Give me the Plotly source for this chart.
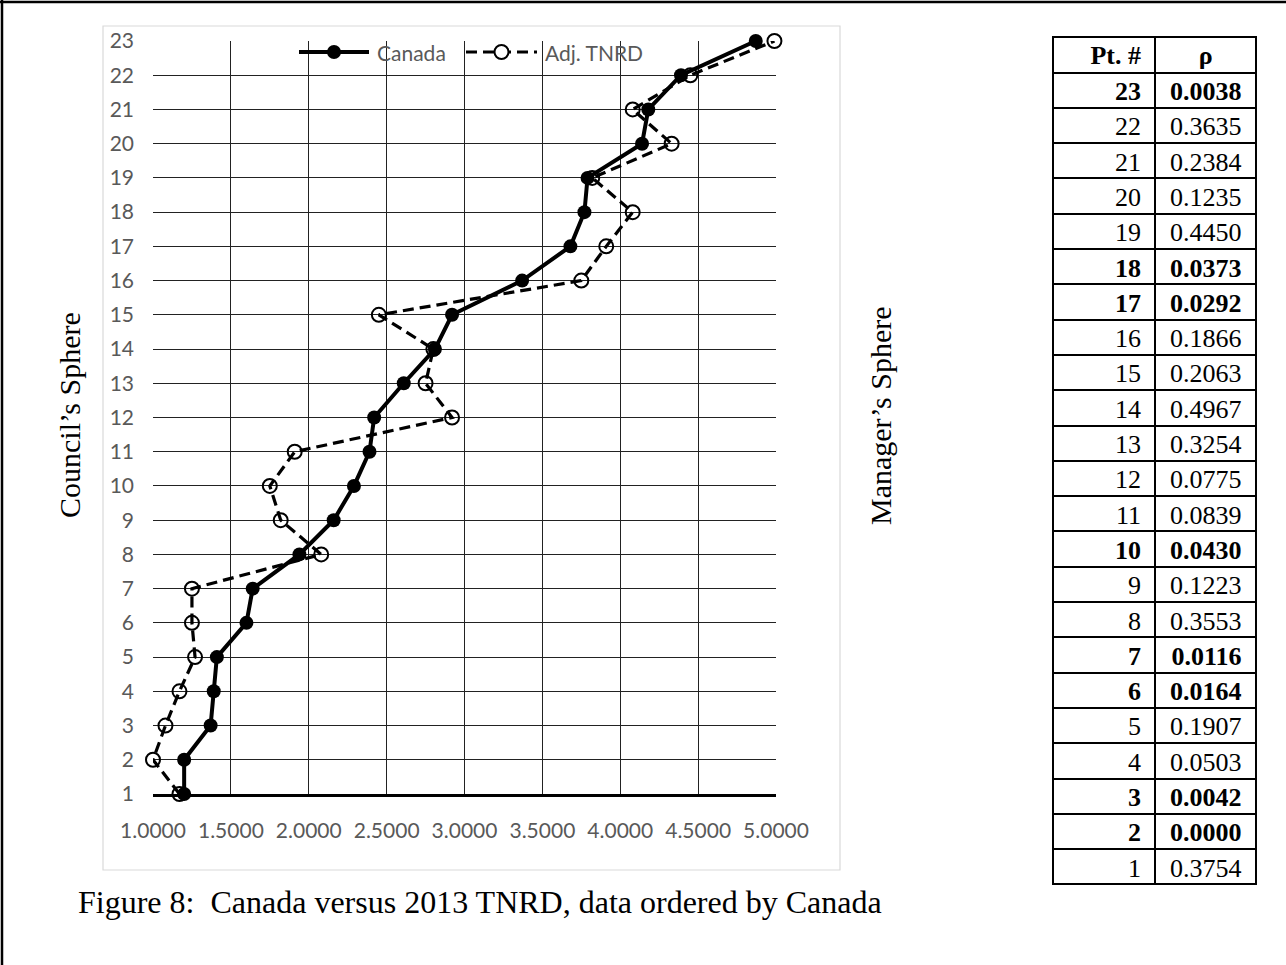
import plotly.graph_objects as go

# ---------------- data ----------------
pts = list(range(1, 24))
canada = [1.20, 1.20, 1.37, 1.39, 1.41, 1.60, 1.64, 1.94, 2.16, 2.29, 2.39, 2.42,
          2.61, 2.81, 2.92, 3.37, 3.68, 3.77, 3.79, 4.14, 4.18, 4.39, 4.87]
adj_tnrd = [1.17, 1.00, 1.08, 1.17, 1.27, 1.25, 1.25, 2.08, 1.82, 1.75, 1.91, 2.92,
            2.75, 2.80, 2.45, 3.75, 3.91, 4.08, 3.82, 4.33, 4.08, 4.45, 4.99]
rho = [0.3754, 0.0000, 0.0042, 0.0503, 0.1907, 0.0164, 0.0116, 0.3553, 0.1223,
       0.0430, 0.0839, 0.0775, 0.3254, 0.4967, 0.2063, 0.1866, 0.0292, 0.0373,
       0.4450, 0.1235, 0.2384, 0.3635, 0.0038]
x_ticks = [1.0, 1.5, 2.0, 2.5, 3.0, 3.5, 4.0, 4.5, 5.0]
series_names = ["Canada", "Adj. TNRD"]
table_header = ["Pt. #", "ρ"]
y_title_left = "Council\u2019s Sphere"
y_title_right = "Manager\u2019s Sphere"
caption = "Figure 8:  Canada versus 2013 TNRD, data ordered by Canada"

W, H = 1286, 965

def px(x):
    return x / W

def py(y):
    return 1 - y / H

# series styles
styles = [
    dict(line=dict(color="black", width=4),
         marker=dict(symbol="circle", size=14, color="black")),
    dict(line=dict(color="black", width=3.2, dash="11px,6px"),
         marker=dict(symbol="circle-open", size=14, color="black",
                     line=dict(width=2, color="black"))),
]

fig = go.Figure()
for name, xs, st in zip(series_names, [canada, adj_tnrd], styles):
    fig.add_trace(go.Scatter(
        x=xs, y=pts, name=name, mode="lines+markers",
        line=st["line"], marker=st["marker"], cliponaxis=False, showlegend=False,
    ))

# table (descending point order); bold where rho < 0.05
rows_pts = pts[::-1]
rows_rho = rho[::-1]
sig = [r < 0.05 for r in rows_rho]
pts_txt = ["%d\u00a0" % p for p in rows_pts]
rho_txt = ["%.4f\u00a0" % r for r in rows_rho]

tbl_domain = dict(x=[px(1053), px(1257)], y=[0, py(36.5)])
tbl_font = dict(family="Liberation Serif", size=26, color="black")

fig.add_trace(go.Table(
    domain=tbl_domain,
    columnwidth=[103, 101],
    header=dict(
        values=["%s\u00a0" % table_header[0], table_header[1]],
        align=["right", "center"], height=36,
        line=dict(color="black", width=2), fill=dict(color="white"),
        font=dict(**tbl_font, weight="bold"),
    ),
    cells=dict(
        values=[[t if not s else "" for t, s in zip(pts_txt, sig)],
                [t if not s else "" for t, s in zip(rho_txt, sig)]],
        align=["right", "right"], height=35.3,
        line=dict(color="black", width=2), fill=dict(color="white"),
        font=dict(**tbl_font, weight="normal"),
    ),
))
fig.add_trace(go.Table(
    domain=tbl_domain,
    columnwidth=[103, 101],
    header=dict(
        values=["", ""], height=36,
        line=dict(color="rgba(0,0,0,0)", width=0), fill=dict(color="rgba(0,0,0,0)"),
        font=dict(**tbl_font, weight="bold"),
    ),
    cells=dict(
        values=[[t if s else "" for t, s in zip(pts_txt, sig)],
                [t if s else "" for t, s in zip(rho_txt, sig)]],
        align=["right", "right"], height=35.3,
        line=dict(color="rgba(0,0,0,0)", width=0), fill=dict(color="rgba(0,0,0,0)"),
        font=dict(**tbl_font, weight="bold"),
    ),
))

tick_font = dict(family="Lato", size=21, color="#595959")

# ---- legend (Excel-style long sample lines) ----
legend_y = 52
legend_items = [(299, 369), (466, 537)]
shapes = [
    dict(type="rect", xref="paper", yref="paper",
         x0=px(103), x1=px(840), y0=py(870), y1=py(26),
         line=dict(color="#d9d9d9", width=1.2), layer="below"),
    dict(type="line", xref="paper", yref="paper",
         x0=0, x1=1, y0=py(2), y1=py(2), line=dict(color="black", width=2.5)),
    dict(type="line", xref="paper", yref="paper",
         x0=px(2), x1=px(2), y0=0, y1=1, line=dict(color="black", width=2.5)),
]
annotations = []
for (x0, x1), name, st in zip(legend_items, series_names, styles):
    shapes.append(dict(type="line", xref="paper", yref="paper",
                       x0=px(x0), x1=px(x1), y0=py(legend_y), y1=py(legend_y),
                       line=st["line"]))
    r = st["marker"]["size"] / 2
    xc = (x0 + x1) / 2
    filled = st["marker"]["symbol"] == "circle"
    shapes.append(dict(type="circle", xref="paper", yref="paper",
                       x0=px(xc - r), x1=px(xc + r), y0=py(legend_y + r), y1=py(legend_y - r),
                       fillcolor="black" if filled else "white",
                       line=dict(color="black", width=0 if filled else 2)))
    annotations.append(dict(text=name, xref="paper", yref="paper", x=px(x1 + 6), y=py(legend_y),
                            showarrow=False, xanchor="left", yanchor="middle", font=tick_font))

annotations += [
    dict(text=y_title_left, xref="paper", yref="paper", x=px(69), y=py(415),
         textangle=-90, showarrow=False, xanchor="center", yanchor="middle",
         font=dict(family="Liberation Serif", size=30, color="black")),
    dict(text=y_title_right, xref="paper", yref="paper", x=px(880), y=py(415),
         textangle=-90, showarrow=False, xanchor="center", yanchor="middle",
         font=dict(family="Liberation Serif", size=30, color="black")),
    dict(text=caption, xref="paper", yref="paper", x=px(76), y=py(902),
         showarrow=False, xanchor="left", yanchor="middle",
         font=dict(family="Liberation Serif", size=32, color="black")),
]

fig.update_layout(
    template="none",
    width=W, height=H,
    margin=dict(l=0, r=0, t=0, b=0, pad=0, autoexpand=False),
    paper_bgcolor="white", plot_bgcolor="white",
    showlegend=False,
    xaxis=dict(
        domain=[px(153), px(776)], range=[1, 5], automargin=False,
        tickvals=x_ticks, tickformat=".4f", tickfont=tick_font,
        showgrid=True, gridcolor="#222222", gridwidth=1.3,
        showline=True, linecolor="black", linewidth=2.5,
        zeroline=False, ticks="", ticklabelstandoff=16,
    ),
    yaxis=dict(
        domain=[py(794), py(41)], range=[1, 23], dtick=1, tick0=1, automargin=False,
        tickfont=tick_font,
        showgrid=True, gridcolor="#222222", gridwidth=1.3,
        showline=False, zeroline=False, ticks="", ticklabelstandoff=18,
    ),
    shapes=shapes,
    annotations=annotations,
)

fig.write_html("out.html")
